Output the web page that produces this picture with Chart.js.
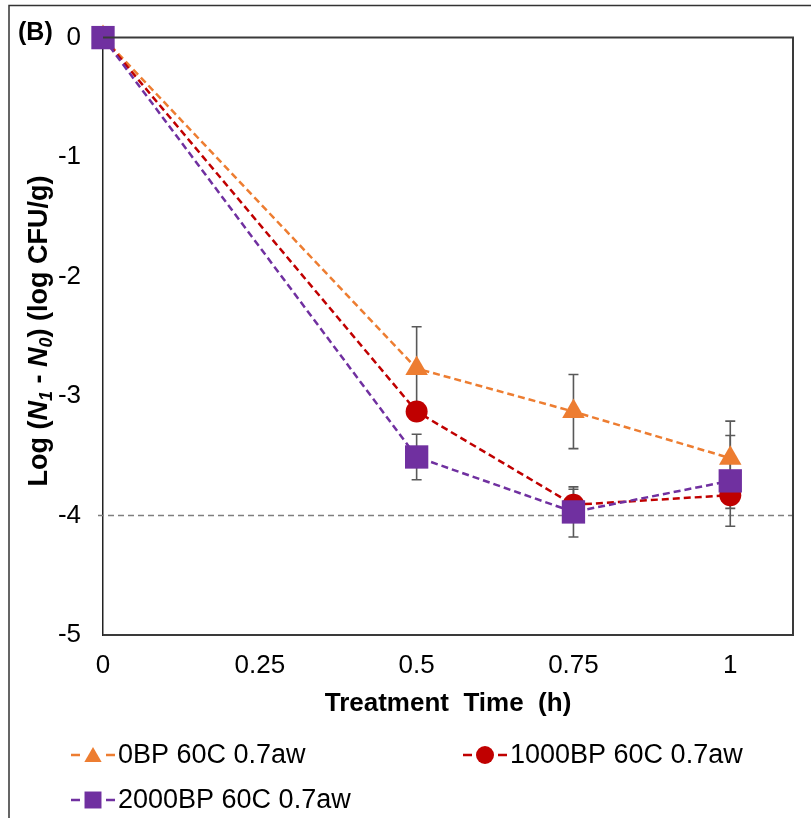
<!DOCTYPE html>
<html>
<head>
<meta charset="utf-8">
<script src="https://cdn.jsdelivr.net/npm/chart.js@4.4.1/dist/chart.umd.min.js"></script>
<style>
  html, body { margin: 0; padding: 0; background: #fff; }
  #wrap { width: 811px; height: 818px; position: relative; }
</style>
</head>
<body>
<div id="wrap"><canvas id="c" width="811" height="818"></canvas></div>
<script>
// ---- data ----
const times = [0, 0.5, 0.75, 1];
const labels = ['0BP 60C 0.7aw', '1000BP 60C 0.7aw', '2000BP 60C 0.7aw'];
const bp0 = [0, -2.77, -3.13, -3.52];
const bp0Err = [0, 0.35, 0.31, 0.31];
const bp1000 = [0, -3.13, -3.91, -3.83];
const bp1000Err = [0, 0.06, 0.13, 0.11];
const bp2000 = [0, -3.51, -3.97, -3.71];
const bp2000Err = [0, 0.19, 0.21, 0.38];
const xTicks = [0, 0.25, 0.5, 0.75, 1];
const xTickLabels = ['0', '0.25', '0.5', '0.75', '1'];
const yTicks = [0, -1, -2, -3, -4, -5];
const refLine = -4;
const panelLabel = '(B)';
const xTitle = 'Treatment  Time  (h)';

const FONT = "'Liberation Sans', Arial, Helvetica, sans-serif";
const colors = ['#ED7D31', '#C00000', '#7030A0'];
const styles = ['triangle', 'circle', 'rect'];
const radii = [13, 11, 16.5];
const series = [bp0, bp1000, bp2000];
const errs = [bp0Err, bp1000Err, bp2000Err];

const datasets = series.map((vals, i) => ({
  label: labels[i],
  data: times.map((t, j) => ({ x: t, y: vals[j] })),
  errors: errs[i],
  borderColor: colors[i],
  backgroundColor: colors[i],
  pointBackgroundColor: colors[i],
  pointBorderColor: colors[i],
  pointBorderWidth: 0,
  pointStyle: styles[i],
  pointRadius: radii[i],
  pointHoverRadius: radii[i],
  borderWidth: 2.5,
  borderDash: [7, 4],
  fill: false,
  tension: 0,
  clip: false,
  order: 2 - i
}));

const deco = {
  id: 'deco',
  beforeDatasetsDraw(chart) {
    const { ctx, chartArea: a, scales: { x, y } } = chart;
    ctx.save();
    // reference dashed line
    const yy = y.getPixelForValue(refLine);
    ctx.strokeStyle = '#7f7f7f';
    ctx.lineWidth = 1.3;
    ctx.setLineDash([6, 4]);
    ctx.beginPath();
    ctx.moveTo(a.left - 5, yy);
    ctx.lineTo(a.right, yy);
    ctx.stroke();
    ctx.setLineDash([]);
    // error bars
    ctx.strokeStyle = '#595959';
    ctx.lineWidth = 1.6;
    chart.data.datasets.forEach(ds => {
      ds.data.forEach((p, j) => {
        const e = ds.errors[j];
        if (!e) return;
        const px = x.getPixelForValue(p.x);
        const yt = y.getPixelForValue(p.y + e);
        const yb = y.getPixelForValue(p.y - e);
        ctx.beginPath();
        ctx.moveTo(px, yt); ctx.lineTo(px, yb);
        ctx.moveTo(px - 5, yt); ctx.lineTo(px + 5, yt);
        ctx.moveTo(px - 5, yb); ctx.lineTo(px + 5, yb);
        ctx.stroke();
      });
    });
    ctx.restore();
  },
  afterDraw(chart) {
    const { ctx, chartArea: a } = chart;
    ctx.save();
    // outer frame (top & left)
    ctx.strokeStyle = '#333';
    ctx.lineWidth = 1.5;
    ctx.beginPath();
    ctx.moveTo(9, 818); ctx.lineTo(9, 5.5); ctx.lineTo(811, 5.5);
    ctx.stroke();
    // plot box top, right, bottom
    ctx.strokeStyle = '#3a3a3a';
    ctx.lineWidth = 2;
    ctx.beginPath();
    ctx.moveTo(a.left, a.top); ctx.lineTo(a.right, a.top); ctx.lineTo(a.right, a.bottom); ctx.lineTo(a.left, a.bottom);
    ctx.stroke();

    // panel label
    ctx.fillStyle = '#000';
    ctx.font = 'bold 25px ' + FONT;
    ctx.textBaseline = 'middle';
    ctx.textAlign = 'left';
    ctx.fillText(panelLabel, 18, 33);

    // x title
    ctx.font = 'bold 26px ' + FONT;
    ctx.textAlign = 'center';
    ctx.fillText(xTitle, (a.left + a.right) / 2, 704);

    // y title with italic N and subscripts
    const segs = [
      { t: 'Log (', f: 'bold 27px ' },
      { t: 'N', f: 'italic bold 27px ' },
      { t: '1', f: 'italic bold 18px ', sub: true },
      { t: ' - ', f: 'bold 27px ' },
      { t: 'N', f: 'italic bold 27px ' },
      { t: '0', f: 'italic bold 18px ', sub: true },
      { t: ') (log CFU/g)', f: 'bold 27px ' }
    ];
    let total = 0;
    segs.forEach(s => { ctx.font = s.f + FONT; s.w = ctx.measureText(s.t).width; total += s.w; });
    ctx.translate(38, 331);
    ctx.rotate(-Math.PI / 2);
    ctx.textAlign = 'left';
    ctx.textBaseline = 'alphabetic';
    let cx = -total / 2;
    segs.forEach(s => {
      ctx.font = s.f + FONT;
      ctx.fillText(s.t, cx, s.sub ? 14 : 9);
      cx += s.w;
    });
    ctx.setTransform(1, 0, 0, 1, 0, 0);

    // legend
    const pos = [[71, 755], [463, 755], [71, 800]];
    const lrad = [10, 9, 12];
    chart.data.datasets.forEach((ds, i) => {
      const [lx, ly] = pos[i];
      ctx.strokeStyle = ds.borderColor;
      ctx.lineWidth = 2.5;
      ctx.beginPath();
      ctx.moveTo(lx, ly); ctx.lineTo(lx + 9, ly);
      ctx.moveTo(lx + 35, ly); ctx.lineTo(lx + 44, ly);
      ctx.stroke();
      ctx.fillStyle = ds.borderColor;
      Chart.helpers.drawPoint(ctx, { pointStyle: ds.pointStyle, radius: lrad[i], rotation: 0, borderWidth: 0 }, lx + 22, ly + (ds.pointStyle === 'triangle' ? 2 : 0));
      ctx.fillStyle = '#000';
      ctx.font = '27px ' + FONT;
      ctx.textAlign = 'left';
      ctx.textBaseline = 'middle';
      ctx.fillText(ds.label, lx + 47, ly + 1);
    });
    ctx.restore();
  }
};

new Chart(document.getElementById('c'), {
  type: 'line',
  data: { datasets },
  plugins: [deco],
  options: {
    responsive: false,
    animation: false,
    events: [],
    layout: { padding: { left: 0, top: 33, right: 18, bottom: 0 } },
    plugins: { legend: { display: false }, tooltip: { enabled: false } },
    scales: {
      x: {
        type: 'linear',
        min: 0,
        max: 1.1,
        afterFit: s => { s.height = 818 - 635; },
        afterBuildTicks: s => { s.ticks = xTicks.map(v => ({ value: v })); },
        grid: { display: false, drawTicks: false },
        border: { display: true, color: '#3a3a3a', width: 2 },
        ticks: {
          callback: (v, i) => xTickLabels[i],
          font: { family: FONT, size: 26 },
          color: '#000',
          padding: 15,
          maxRotation: 0,
          autoSkip: false
        }
      },
      y: {
        type: 'linear',
        min: -5,
        max: 0,
        afterFit: s => { s.width = 103; },
        afterBuildTicks: s => { s.ticks = yTicks.map(v => ({ value: v })); },
        grid: { display: false, drawTicks: false },
        border: { display: true, color: '#222', width: 1.5 },
        ticks: {
          callback: v => String(v),
          font: { family: FONT, size: 26 },
          color: '#000',
          padding: 22,
          autoSkip: false
        }
      }
    }
  }
});
</script>
</body>
</html>
